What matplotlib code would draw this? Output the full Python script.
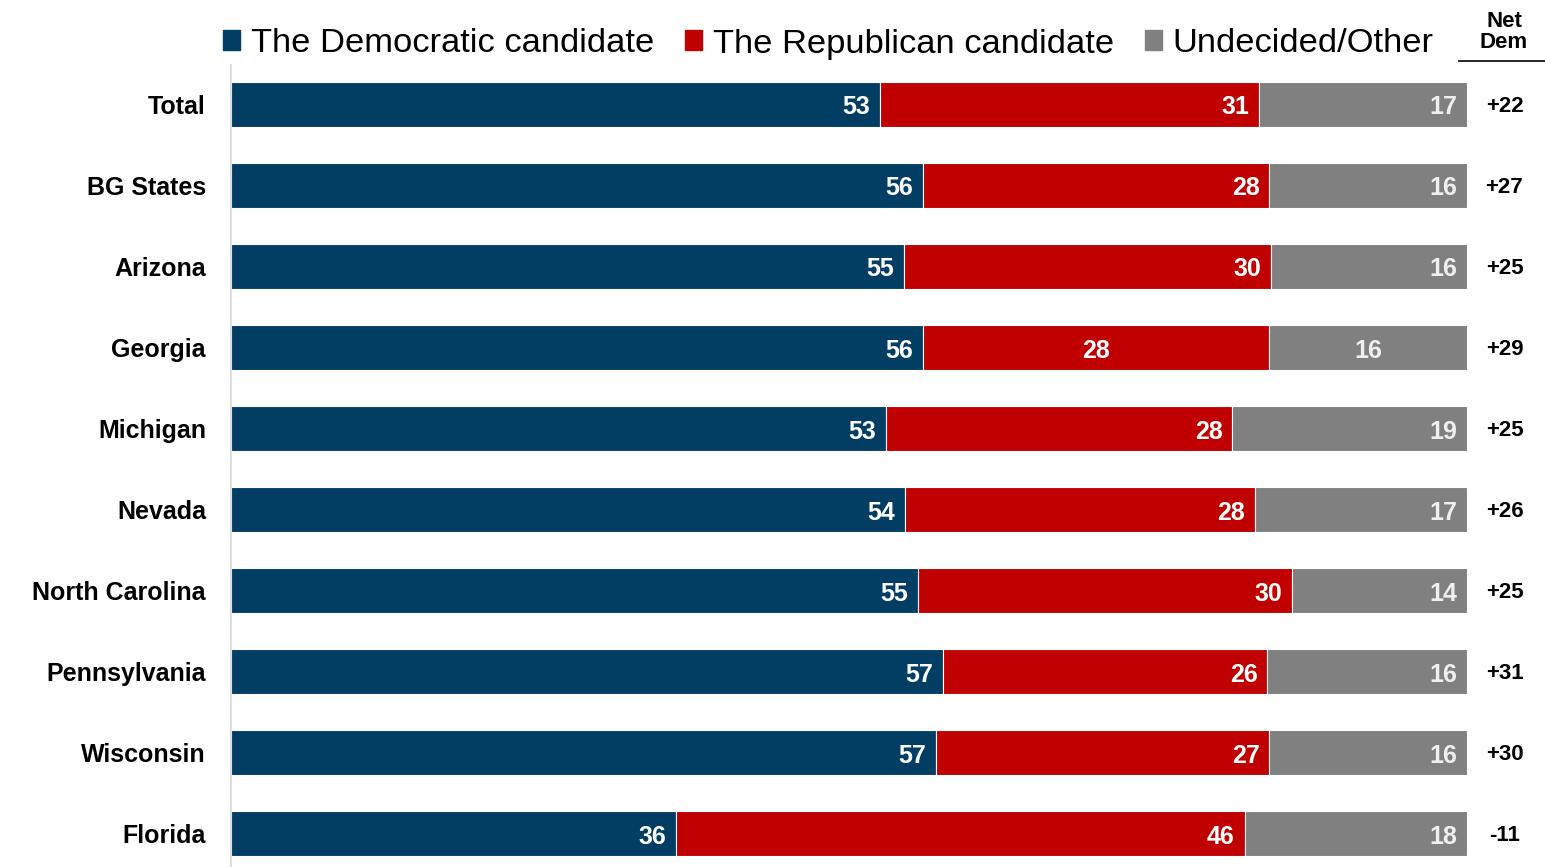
import numpy as np
import matplotlib
matplotlib.use("Agg")
import matplotlib.pyplot as plt
from matplotlib.patches import Patch
from matplotlib.lines import Line2D

plt.rcParams['font.family'] = ['Liberation Sans', 'DejaVu Sans']

# ----------------------
# Data
# ----------------------
groups = ['Total', 'BG States', 'Arizona', 'Georgia', 'Michigan', 'Nevada',
          'North Carolina', 'Pennsylvania', 'Wisconsin', 'Florida']
dem = [53, 56, 55, 56, 53, 54, 55, 57, 57, 36]
rep = [31, 28, 30, 28, 28, 28, 30, 26, 27, 46]
other = [17, 16, 16, 16, 19, 17, 14, 16, 16, 18]
net_dem = ['+22', '+27', '+25', '+29', '+25', '+26', '+25', '+31', '+30', '-11']
series_names = ['The Democratic candidate', 'The Republican candidate', 'Undecided/Other']

colors = ['#023E64', '#C00000', '#808080']
label_colors = ['white', 'white', '#EFEFEF']

# ----------------------
# Plot
# ----------------------
W, H = 1545, 867
fig = plt.figure(figsize=(W / 100, H / 100), dpi=100)
ax = fig.add_axes([231 / W, 0, (1467 - 231) / W, 1 - 65 / H])

dem_a = np.array(dem, float)
rep_a = np.array(rep, float)
oth_a = np.array(other, float)
tot = dem_a + rep_a + oth_a
shares = [dem_a / tot * 100, rep_a / tot * 100, oth_a / tot * 100]
raw = [dem, rep, other]

y = np.arange(len(groups))
left = np.zeros(len(groups))
for k in range(3):
    ax.barh(y, shares[k], left=left, height=0.56, color=colors[k],
            edgecolor='white', linewidth=0.8)
    for i in range(len(groups)):
        end = left[i] + shares[k][i]
        # Georgia's Rep/Other labels sit in the middle of the segment
        centered = groups[i] == 'Georgia' and k > 0
        if centered:
            xpos, ha, off = left[i] + shares[k][i] / 2, 'center', 0
        else:
            xpos, ha, off = end, 'right', -7
        ax.annotate(str(raw[k][i]), (xpos, y[i]), xytext=(off, -2),
                    textcoords='offset points', ha=ha, va='center',
                    fontsize=18, fontweight='bold', color=label_colors[k])
    left += shares[k]

ax.set_xlim(0, 100)
ax.set_ylim(9.41, -0.49)
ax.set_yticks(y)
ax.set_yticklabels(groups, fontsize=18, fontweight='bold')
ax.tick_params(axis='y', length=0, pad=18)
ax.set_xticks([])
for s in ['top', 'right', 'bottom']:
    ax.spines[s].set_visible(False)
ax.spines['left'].set_color('#D9D9D9')
ax.spines['left'].set_linewidth(1.2)

# Net Dem column
for i, v in enumerate(net_dem):
    ax.annotate(v, (1.0, y[i]), xycoords=('axes fraction', 'data'),
                xytext=(27, -1.5), textcoords='offset points', ha='center',
                va='center', fontsize=16, fontweight='bold')
fig.text(1504 / W, 1 - 32 / H, 'Net\nDem', ha='center', va='center',
         fontsize=16, fontweight='bold', linespacing=1.0)
fig.add_artist(Line2D([1459 / W, 1545 / W], [1 - 61 / H, 1 - 61 / H],
                      color='black', linewidth=1.2))

# Legend
handles = [Patch(color=c) for c in colors]
fig.legend(handles, series_names, loc='center right',
           bbox_to_anchor=(1447 / W, 1 - 44 / H), ncol=3, frameon=False,
           fontsize=24.8, handlelength=0.5, handleheight=0.5,
           handletextpad=0.3, columnspacing=0.9, borderaxespad=0)

fig.savefig('out.png', dpi=100)
